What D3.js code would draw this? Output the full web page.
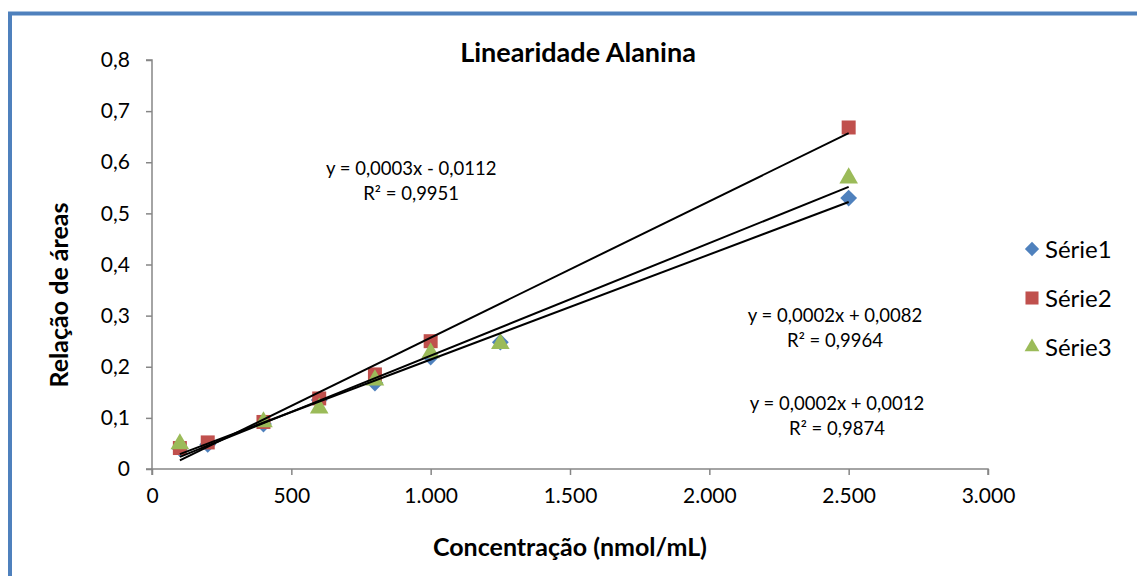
<!DOCTYPE html>
<html><head><meta charset="utf-8">
<script src="https://cdn.jsdelivr.net/npm/d3@7"></script>
<style>body{margin:0;background:#fff;} text{font-family:Lato,"Open Sans",sans-serif;}</style>
</head><body>
<svg id="c" width="1137" height="576"></svg>
<script>
const concentrations = [100, 200, 400, 600, 800, 1000, 1250, 2500];
const serie1 = [0.040, 0.048, 0.088, 0.135, 0.168, 0.219, 0.248, 0.530];
const serie2 = [0.041, 0.052, 0.092, 0.138, 0.185, 0.250, null, 0.668];
const serie3 = [0.049, null, 0.092, 0.119, 0.174, 0.227, 0.245, 0.569];
const seriesNames = ["Série1", "Série2", "Série3"];
const xTicks = [0, 500, 1000, 1500, 2000, 2500, 3000];
const yTicks = [0, 0.1, 0.2, 0.3, 0.4, 0.5, 0.6, 0.7, 0.8];
const equations = [
  ["y = 0,0002x + 0,0082", "R² = 0,9964"],
  ["y = 0,0003x - 0,0112", "R² = 0,9951"],
  ["y = 0,0002x + 0,0012", "R² = 0,9874"]
];
// label anchor positions in data units (first-line baseline)
const eqPos = [[2451, 0.288], [930, 0.575], [2458, 0.115]];

const svg = d3.select("#c");
const colors = ["#4F81BD", "#C0504D", "#9BBB59"];
const shapes = [d3.symbolDiamond2, d3.symbolSquare, d3.symbolTriangle];

// outer frame
svg.append("rect").attr("x", 10).attr("y", 13.5).attr("width", 1200).attr("height", 700)
  .attr("fill", "none").attr("stroke", "#4F81BD").attr("stroke-width", 4);

const x = d3.scaleLinear().domain([0, 3000]).range([152, 988]);
const y = d3.scaleLinear().domain([0, 0.8]).range([469, 60]);

const fmtX = d => d3.format(",")(d).replace(/,/g, ".");
const fmtY = d => d === 0 ? "0" : d3.format(".1f")(d).replace(".", ",");

const xa = svg.append("g").attr("transform", "translate(0,469)")
  .call(d3.axisBottom(x).tickValues(xTicks).tickFormat(fmtX).tickSize(6).tickPadding(13));
const ya = svg.append("g").attr("transform", "translate(152,0)")
  .call(d3.axisLeft(y).tickValues(yTicks).tickFormat(fmtY).tickSize(6).tickPadding(16));
[xa, ya].forEach(a => {
  a.select(".domain").attr("stroke", "#868686").attr("stroke-width", 1.5);
  a.selectAll(".tick line").attr("stroke", "#868686").attr("stroke-width", 1.5);
  a.selectAll(".tick text").attr("fill", "#000").style("font-size", "21px")
    .style("font-family", "Lato, 'Open Sans', sans-serif");
});
xa.selectAll(".domain").attr("d", "M152,6V0H988V6");
ya.selectAll(".domain").attr("d", "M-6,60H0V469H-6");

const allSeries = [serie1, serie2, serie3];

// markers
allSeries.forEach((s, i) => {
  const pts = concentrations.map((c, k) => [c, s[k]]).filter(p => p[1] != null);
  svg.append("g").selectAll("path").data(pts).join("path")
    .attr("transform", p => `translate(${x(p[0])},${y(p[1])})`)
    .attr("d", d3.symbol().type(shapes[i]).size(i === 1 ? 196 : i === 0 ? 180 : 150))
    .attr("fill", colors[i]);
});

// trendlines (least squares)
allSeries.forEach((s, i) => {
  const pts = concentrations.map((c, k) => [c, s[k]]).filter(p => p[1] != null);
  const mx = d3.mean(pts, p => p[0]), my = d3.mean(pts, p => p[1]);
  const b = d3.sum(pts, p => (p[0] - mx) * (p[1] - my)) / d3.sum(pts, p => (p[0] - mx) ** 2);
  const a = my - b * mx;
  const x0 = d3.min(pts, p => p[0]), x1 = d3.max(pts, p => p[0]);
  svg.append("line").attr("x1", x(x0)).attr("y1", y(a + b * x0))
    .attr("x2", x(x1)).attr("y2", y(a + b * x1))
    .attr("stroke", "#000").attr("stroke-width", 2);
});

// equations
equations.forEach((eq, i) => {
  const t = svg.append("text").attr("text-anchor", "middle").style("font-size", "18.5px");
  eq.forEach((line, j) => {
    t.append("tspan").attr("x", x(eqPos[i][0])).attr("y", y(eqPos[i][1]) + j * 25).text(line);
  });
});

// title
svg.append("text").attr("x", 578).attr("y", 62).attr("text-anchor", "middle")
  .style("font-size", "27px").style("font-weight", "bold").text("Linearidade Alanina");
// axis titles
svg.append("text").attr("x", 570).attr("y", 556).attr("text-anchor", "middle")
  .style("font-size", "25px").style("font-weight", "bold").text("Concentração (nmol/mL)");
svg.append("text").attr("transform", "translate(68,295) rotate(-90)").attr("text-anchor", "middle")
  .style("font-size", "25px").style("font-weight", "bold").text("Relação de áreas");

// legend
const lg = svg.append("g").attr("transform", "translate(1032,249)");
seriesNames.forEach((nm, i) => {
  const g = lg.append("g").attr("transform", `translate(0,${i * 49})`);
  g.append("path").attr("d", d3.symbol().type(shapes[i]).size(i === 1 ? 170 : i === 0 ? 130 : 95)).attr("fill", colors[i]);
  g.append("text").attr("x", 13).attr("y", 8.5).style("font-size", "24px").text(nm);
});
</script>
</body></html>
